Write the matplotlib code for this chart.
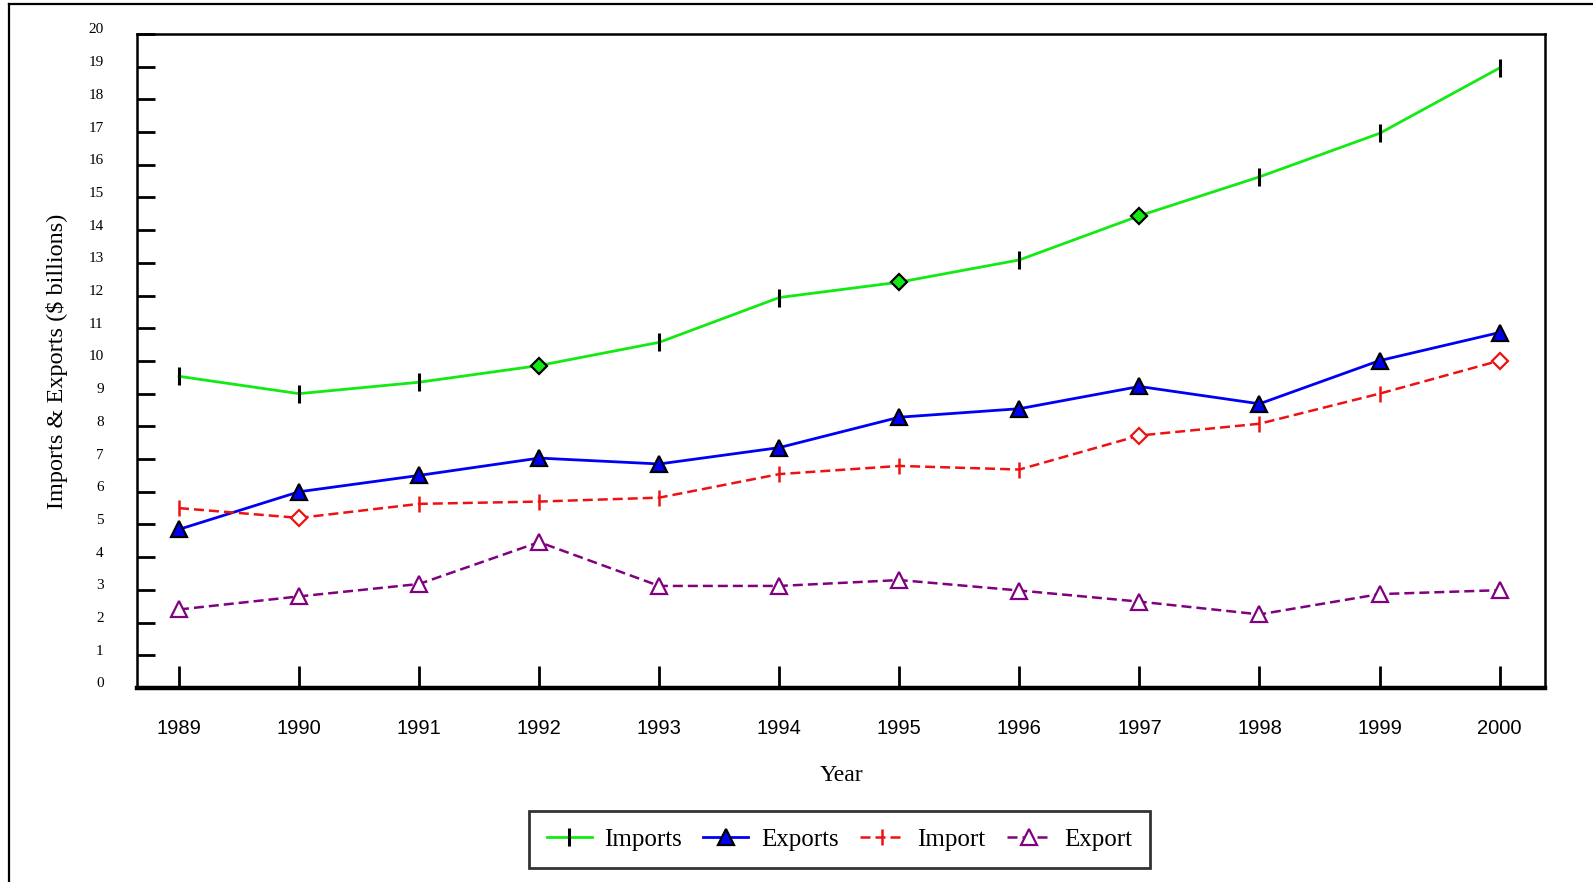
import matplotlib
matplotlib.use("Agg")
import matplotlib.pyplot as plt
from matplotlib.lines import Line2D
from matplotlib.transforms import ScaledTranslation

years = [1989, 1990, 1991, 1992, 1993, 1994, 1995, 1996, 1997, 1998, 1999, 2000]

imports_total = [9.53, 9.0, 9.35, 9.86, 10.57, 11.94, 12.41, 13.09, 14.44, 15.63, 16.96, 18.96]
exports_total = [4.85, 6.0, 6.5, 7.03, 6.85, 7.35, 8.28, 8.54, 9.22, 8.69, 10.01, 10.87]
import_series = [5.5, 5.2, 5.63, 5.70, 5.82, 6.54, 6.79, 6.68, 7.72, 8.08, 9.0, 10.01]
export_series = [2.4, 2.8, 3.18, 4.46, 3.12, 3.12, 3.30, 2.98, 2.64, 2.25, 2.87, 2.99]

# points drawn with a diamond instead of the usual marker
imports_diamonds = [3, 6, 8]
import_diamonds = [1, 8, 11]

GREEN = "#13EA13"
BLUE = "#0000F5"
RED = "#EE1111"
PURPLE = "#800080"

SERIF = ["Liberation Serif", "DejaVu Serif"]
SANS = ["Liberation Sans", "DejaVu Sans"]

fig = plt.figure(figsize=(15.93, 8.82), dpi=100)
ax = fig.add_axes([0.086, 0.22, 0.884, 0.7415])

n = len(years)


def plain_idx(skip):
    return [i for i in range(n) if i not in skip]


ax.plot(years, imports_total, color=GREEN, lw=2.0, marker="|", ms=13, mew=2.2,
        mec="black", markevery=plain_idx(imports_diamonds), label="Imports", zorder=3)
ax.plot([years[i] for i in imports_diamonds], [imports_total[i] for i in imports_diamonds],
        ls="none", marker="D", ms=8, mfc=GREEN, mec="black", mew=1.6, zorder=4)

ax.plot(years, exports_total, color=BLUE, lw=2.0, marker="^", ms=11, mfc=BLUE,
        mec="black", mew=1.6, label="Exports", zorder=3)

ax.plot(years, import_series, color=RED, lw=1.8, ls=(0, (4, 2)), marker="|", ms=12,
        mew=1.8, mec=RED, markevery=plain_idx(import_diamonds), label="Import", zorder=3)
ax.plot([years[i] for i in import_diamonds], [import_series[i] for i in import_diamonds],
        ls="none", marker="D", ms=8, mfc="white", mec=RED, mew=1.6, zorder=4)

ax.plot(years, export_series, color=PURPLE, lw=1.8, ls=(0, (4, 2)), marker="^", ms=11,
        mfc="white", mec=PURPLE, mew=1.6, label="Export", zorder=3)

ax.set_xlim(1988.65, 2000.38)
ax.set_ylim(0, 20)

ax.set_xticks(years)
ax.set_xticklabels([str(y) for y in years], fontfamily=SANS, fontsize=14.5)
ax.set_yticks(range(0, 21))
ax.set_yticklabels([str(v) for v in range(0, 21)], fontfamily=SERIF, fontsize=11)

ax.tick_params(axis="x", direction="in", length=16, width=2, pad=22, color="black")
ax.tick_params(axis="y", direction="in", length=13, width=2, pad=24, color="black")
for lab in ax.get_yticklabels():
    lab.set_transform(lab.get_transform() + ScaledTranslation(0, 4 / 72, fig.dpi_scale_trans))

for side in ("left", "top", "right"):
    ax.spines[side].set_linewidth(1.8)
ax.spines["bottom"].set_linewidth(3.2)

ax.set_xlabel("Year", fontfamily=SERIF, fontsize=17, labelpad=20)
ax.set_ylabel("Imports & Exports ($ billions)", fontfamily=SERIF, fontsize=17.5, labelpad=15)

leg = fig.legend(loc="center", bbox_to_anchor=(0.527, 0.048), ncol=4, frameon=True,
                 fancybox=False, prop={"family": SERIF, "size": 18}, handlelength=1.8,
                 columnspacing=0.85, handletextpad=0.5, borderpad=0.7)
leg.get_frame().set_edgecolor("black")
leg.get_frame().set_linewidth(2.0)

# outer page border (only the left and top edges fall inside the canvas)
fig.add_artist(Line2D([9 / 1593, 9 / 1593], [0, 1 - 4 / 882], transform=fig.transFigure,
                      color="black", lw=1.6))
fig.add_artist(Line2D([9 / 1593, 1], [1 - 4 / 882, 1 - 4 / 882], transform=fig.transFigure,
                      color="black", lw=1.6))

fig.savefig("out.png", dpi=100)
